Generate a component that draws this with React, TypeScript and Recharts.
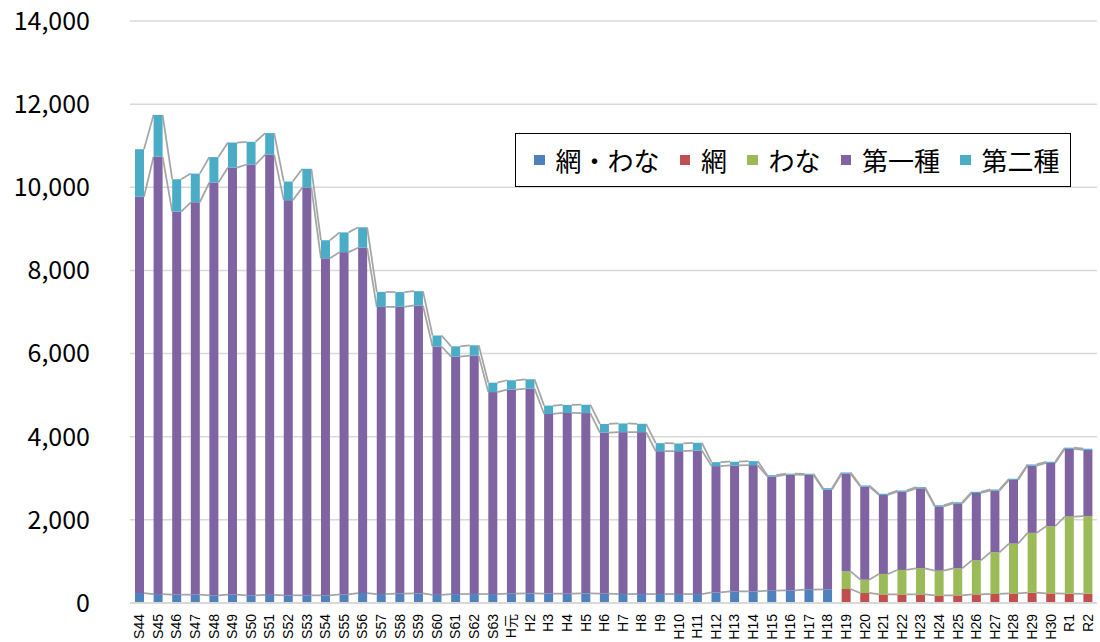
import { BarChart, Bar, XAxis, YAxis, CartesianGrid, Legend } from "recharts"

// 年度
const categories = [
  "S44", "S45", "S46", "S47", "S48", "S49", "S50", "S51", "S52", "S53",
  "S54", "S55", "S56", "S57", "S58", "S59", "S60", "S61", "S62", "S63",
  "H元", "H2", "H3", "H4", "H5", "H6", "H7", "H8", "H9", "H10",
  "H11", "H12", "H13", "H14", "H15", "H16", "H17", "H18", "H19", "H20",
  "H21", "H22", "H23", "H24", "H25", "H26", "H27", "H28", "H29", "H30",
  "R1", "R2",
]

// 網・わな (S44〜H18)
const amiWana = [
  240, 215, 200, 200, 185, 200, 185, 195, 185, 185,
  185, 205, 240, 215, 225, 230, 195, 215, 215, 215,
  225, 230, 225, 225, 230, 225, 215, 215, 215, 215,
  215, 255, 280, 280, 295, 305, 320, 330,
]

// 網 / わな (H19〜R2)
const ami = [337, 241, 207, 207, 207, 183, 183, 207, 217, 231, 248, 231, 223, 223]
const wana = [424, 321, 492, 588, 627, 595, 651, 820, 1003, 1198, 1439, 1615, 1857, 1864]

// 第一種
const daiichi = [
  9534, 10522, 9214, 9440, 9930, 10274, 10363, 10592, 9505, 9809,
  8107, 8235, 8305, 6907, 6900, 6927, 5975, 5712, 5736, 4859,
  4909, 4926, 4322, 4346, 4339, 3873, 3895, 3895, 3437, 3437,
  3453, 3038, 3029, 3037, 2748, 2781, 2765, 2400, 2348, 2238,
  1900, 1883, 1924, 1546, 1562, 1620, 1483, 1531, 1618, 1524,
  1628, 1596,
]

// 第二種
const daini = [
  1142, 1005, 780, 689, 612, 603, 547, 516, 448, 451,
  434, 475, 492, 362, 354, 344, 265, 248, 248, 226,
  224, 225, 202, 193, 201, 208, 209, 201, 193, 185,
  186, 96, 89, 96, 31, 24, 24, 32, 31, 27,
  28, 28, 28, 28, 28, 28, 28, 28, 28, 28,
  28, 28,
]

const yTicks = [0, 2000, 4000, 6000, 8000, 10000, 12000, 14000]
const Y_MAX = 14000

const series = [
  { key: "amiWana", name: "網・わな", color: "#4F81BD" },
  { key: "ami", name: "網", color: "#C0504D" },
  { key: "wana", name: "わな", color: "#9BBB59" },
  { key: "daiichi", name: "第一種", color: "#8064A2" },
  { key: "daini", name: "第二種", color: "#4BACC6" },
]

const newEra = categories.indexOf("H19")

const data = categories.map((name, i) => ({
  name,
  amiWana: i < newEra ? amiWana[i] : null,
  ami: i >= newEra ? ami[i - newEra] : null,
  wana: i >= newEra ? wana[i - newEra] : null,
  daiichi: daiichi[i],
  daini: daini[i],
}))

const CHART_W = 1100
const CHART_H = 642
const MARGIN = { top: 21, right: 3, left: 0, bottom: 0 }
const Y_AXIS_W = 130
const STEP = (CHART_W - MARGIN.left - MARGIN.right - Y_AXIS_W) / categories.length
const JP_FONT = "'Noto Sans CJK JP', 'Noto Sans', sans-serif"

// top of a stacked segment (in data units), null if the segment is blank
function stackTop(row: any, key: string): number | null {
  if (row[key] == null) return null
  let sum = 0
  for (const s of series) {
    sum += row[s.key] ?? 0
    if (s.key === key) break
  }
  return sum
}

// bar with an Excel-like series line to the next bar
function makeShape(key: string) {
  return (props: any) => {
    const { x, y, width, height, fill, index, background } = props
    const row = data[index]
    const next = data[index + 1]
    let link = null
    const t0 = stackTop(row, key)
    const t1 = next ? stackTop(next, key) : null
    if (t0 != null && t1 != null) {
      let y1: number
      if (background && background.height) {
        y1 = background.y + background.height * (1 - t1 / Y_MAX)
      } else {
        const k = height / row[key]
        y1 = y - (t1 - t0) * k
      }
      link = (
        <line
          x1={x + width}
          y1={y}
          x2={x + STEP}
          y2={y1}
          stroke="#A5A5A5"
          strokeWidth={1.75}
        />
      )
    }
    return (
      <g>
        <rect x={x} y={y} width={width} height={Math.max(height, 0)} fill={fill} />
        {link}
      </g>
    )
  }
}

function XTick(props: any) {
  const { x, y, payload } = props
  return (
    <text
      transform={`translate(${x},${y}) rotate(-90)`}
      textAnchor="end"
      dominantBaseline="central"
      fontSize={14}
      fontFamily="'Liberation Sans', 'Noto Sans CJK JP', sans-serif"
      fill="#000"
    >
      {payload.value}
    </text>
  )
}

// legend in the series order (recharts sorts the payload by default)
function LegendBox(props: any) {
  const payload: any[] = props.payload || []
  const items = series.map((s) => {
    const p = payload.find((q) => q.dataKey === s.key || q.value === s.name)
    return { name: s.name, color: p ? p.color : s.color }
  })
  return (
    <div
      style={{
        display: "flex",
        alignItems: "center",
        gap: 20,
        width: 556,
        height: 54,
        boxSizing: "border-box",
        paddingLeft: 18,
        border: "1.5px solid #000",
        background: "#fff",
        fontFamily: JP_FONT,
        fontSize: 26,
        color: "#000",
      }}
    >
      {items.map((p) => (
        <div key={p.name} style={{ display: "flex", alignItems: "center", gap: 11 }}>
          <span style={{ width: 10.5, height: 10.5, background: p.color, display: "inline-block" }} />
          <span style={{ lineHeight: 1 }}>{p.name}</span>
        </div>
      ))}
    </div>
  )
}

export default function App() {
  return (
    <div style={{ position: "absolute", left: 0, top: 0, width: CHART_W, height: CHART_H, background: "#fff" }}>
      <BarChart width={CHART_W} height={CHART_H} data={data} margin={MARGIN} barSize={9}>
        <CartesianGrid vertical={false} stroke="#D9D9D9" strokeWidth={1.5} />
        <XAxis
          dataKey="name"
          interval={0}
          tickLine={false}
          axisLine={{ stroke: "#D9D9D9", strokeWidth: 2 }}
          height={39}
          tick={<XTick />}
          tickMargin={5}
        />
        <YAxis
          width={Y_AXIS_W}
          domain={[0, Y_MAX]}
          ticks={yTicks}
          tickLine={false}
          axisLine={false}
          tickSize={0}
          tickMargin={40}
          tickFormatter={(v: number) => v.toLocaleString("en-US")}
          tick={{ fill: "#000", fontSize: 25, fontFamily: JP_FONT }}
        />
        <Legend
          layout="horizontal"
          verticalAlign="middle"
          align="center"
          content={<LegendBox />}
          wrapperStyle={{ position: "absolute", left: 515, top: 133, width: 556 }}
        />
        {series.map((s) => (
          <Bar
            key={s.key}
            dataKey={s.key}
            name={s.name}
            stackId="total"
            fill={s.color}
            isAnimationActive={false}
            shape={makeShape(s.key)}
          />
        ))}
      </BarChart>
    </div>
  )
}
